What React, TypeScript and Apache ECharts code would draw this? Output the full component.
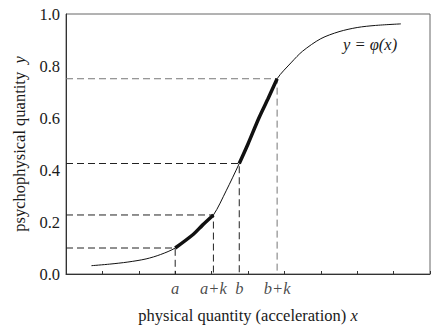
import React, { useEffect, useRef } from "react";
import * as echarts from "echarts";

const curveX = [0.7, 1.2, 1.7, 2.2, 2.6, 3.0, 3.5, 3.75, 4.05, 4.4, 4.76, 5.0, 5.3, 5.55, 5.8, 6.2, 6.5, 7.0, 7.5, 8.0, 8.5, 9.2];
const curveY = [0.032, 0.038, 0.046, 0.058, 0.075, 0.1, 0.153, 0.188, 0.227, 0.32, 0.425, 0.5, 0.6, 0.674, 0.751, 0.815, 0.857, 0.905, 0.932, 0.948, 0.956, 0.962];
const guideX = [3.0, 4.05, 4.76, 5.8];
const guideY = [0.1, 0.227, 0.425, 0.751];
const guideNames = ["a", "a+k", "b", "b+k"];
const thickRanges = [[3.0, 4.05], [4.76, 5.8]];
const yTicks = ["0.0", "0.2", "0.4", "0.6", "0.8", "1.0"];

const FONT = "Liberation Serif";
const FS = 16.5;

export default function App() {
  const ref = useRef<HTMLDivElement>(null);
  useEffect(() => {
    if (!ref.current) return;
    const chart = echarts.init(ref.current, undefined, { renderer: "svg" });
    const curve = curveX.map((x, i) => [x, curveY[i]]);
    const thickSeries = thickRanges.map(([lo, hi]) => ({
      type: "line",
      data: curve.filter((p) => p[0] >= lo - 1e-9 && p[0] <= hi + 1e-9),
      smooth: 0.3,
      symbol: "none",
      lineStyle: { color: "#111", width: 3.5 },
      z: 4,
    }));
    const guideSeries = guideX.map((x, i) => ({
      type: "line",
      data: [[0, guideY[i]], [x, guideY[i]], [x, 0]],
      symbol: "none",
      lineStyle: { color: i === 3 ? "#777" : "#222", width: 1, type: [7, 4] },
      z: 2,
    }));
    chart.setOption({
      animation: false,
      textStyle: { fontFamily: FONT, fontSize: FS, color: "#1a1a1a" },
      grid: { left: 66, top: 14, right: 8, bottom: 54, show: true, borderColor: "#666", borderWidth: 1 },
      xAxis: {
        type: "value",
        min: 0,
        max: 10,
        interval: 1,
        axisLine: { show: true, lineStyle: { color: "#333", width: 1 } },
        axisTick: { show: true, inside: true, length: 3, lineStyle: { color: "#333" } },
        axisLabel: { show: false },
        splitLine: { show: false },
        name: "{n|physical quantity (acceleration) }{i|x}",
        nameLocation: "middle",
        nameGap: 33,
        nameTextStyle: {
          rich: {
            n: { fontFamily: FONT, fontSize: FS, color: "#1a1a1a" },
            i: { fontFamily: FONT, fontSize: FS, fontStyle: "italic", color: "#1a1a1a" },
          },
        },
      },
      yAxis: {
        type: "value",
        min: 0,
        max: 1,
        interval: 0.2,
        axisLine: { show: true, lineStyle: { color: "#333", width: 1 } },
        axisTick: { show: false },
        splitLine: { show: false },
        axisLabel: {
          margin: 6,
          fontFamily: FONT,
          fontSize: FS,
          color: "#1a1a1a",
          formatter: (v: number) => yTicks[Math.round(v / 0.2)] ?? "",
        },
        name: "{n|psychophysical quantity  }{i|y}",
        nameLocation: "middle",
        nameGap: 35,
        nameRotate: 90,
        nameTextStyle: {
          rich: {
            n: { fontFamily: FONT, fontSize: FS, color: "#1a1a1a" },
            i: { fontFamily: FONT, fontSize: FS, fontStyle: "italic", color: "#1a1a1a" },
          },
        },
      },
      series: [
        {
          type: "line",
          data: curve,
          smooth: 0.3,
          symbol: "none",
          lineStyle: { color: "#111", width: 1 },
          z: 3,
        },
        ...thickSeries,
        ...guideSeries,
        {
          type: "scatter",
          data: guideX.map((x) => [x, 0]),
          symbolSize: 0,
          label: {
            show: true,
            position: "bottom",
            distance: 6,
            fontFamily: FONT,
            fontSize: FS,
            fontStyle: "italic",
            color: "#1a1a1a",
            formatter: (p: any) => guideNames[p.dataIndex],
          },
          z: 5,
        },
      ],
      graphic: [
        {
          type: "text",
          left: 343,
          top: 36,
          style: { text: "y = φ(x)", fontFamily: FONT, fontSize: FS, fontStyle: "italic", fill: "#1a1a1a" },
        },
      ],
    });
    return () => chart.dispose();
  }, []);
  return <div ref={ref} style={{ width: 438, height: 329, position: "absolute", left: 0, top: 0 }} />;
}
